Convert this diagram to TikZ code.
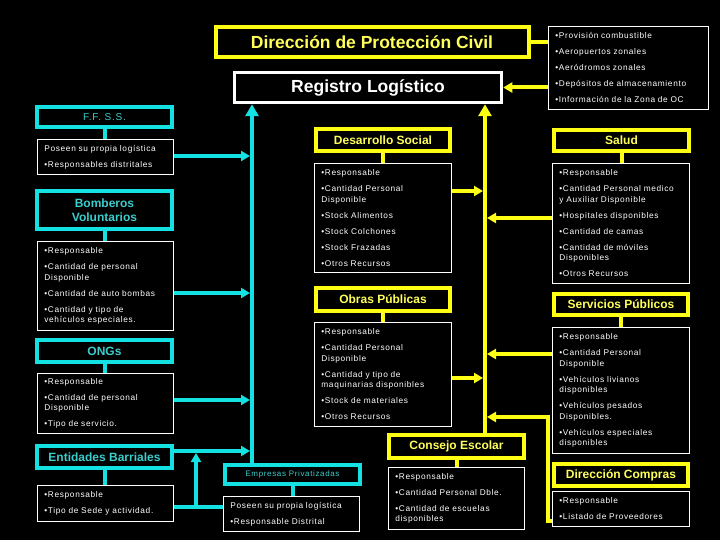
\documentclass[tikz,border=0pt]{standalone}
\usepackage{fontspec}
\setmainfont{Liberation Sans}
\newfontfamily\listfont[LetterSpace=8]{Liberation Sans}
\usetikzlibrary{calc,positioning,arrows.meta}
\definecolor{aqualine}{RGB}{20,225,225}
\definecolor{aquatext}{RGB}{60,205,205}
\definecolor{lemonline}{RGB}{255,255,20}
\definecolor{lemontext}{RGB}{255,255,90}

\begin{document}
\begin{tikzpicture}[x=1pt,y=-1pt,
    cabecera/.style={fill=black, line width=4pt, inner sep=0pt, align=center,
        minimum width=135pt, minimum height=22pt},
    cabC/.style={cabecera, draw=aqualine, text=aquatext, font=\bfseries\fontsize{12}{13.5}\selectfont},
    cabY/.style={cabecera, draw=lemonline, text=lemontext, font=\bfseries\fontsize{12}{13.5}\selectfont},
    lista/.style={draw=white, line width=0.8pt, fill=black, text=white,
        font=\listfont\fontsize{8.3}{10.5}\selectfont, align=left, anchor=north west,
        inner xsep=7pt, inner ysep=0pt},
    cline/.style={draw=aqualine, line width=4pt},
    yline/.style={draw=lemonline, line width=4pt},
    punta/.style={-{Triangle[length=9pt,width=10pt]}},
    puntabus/.style={-{Triangle[length=12pt,width=13pt]}},
]
    % background
    \fill[black] (0,0) rectangle (720,540);
    \useasboundingbox (0,0) rectangle (720,540);

    % top boxes
    \node[cabY, minimum width=313pt, minimum height=30pt, font=\bfseries\fontsize{17.5}{19}\selectfont] (dir) at (372,42) {Dirección de Protección Civil};
    \node[cabecera, draw=white, line width=3.5pt, text=white, minimum width=267pt, minimum height=30pt, font=\bfseries\fontsize{17.5}{19}\selectfont] (reg) at (368,87.5) {Registro Logístico};
    \node[lista, text width=146pt, minimum height=83pt] (topl) at (548,26) {%
        •Provisión combustible\\[5.5pt]
        •Aeropuertos zonales\\[5.5pt]
        •Aeródromos zonales\\[5.5pt]
        •Depósitos de almacenamiento\\[5.5pt]
        •Información de la Zona de OC};

    % left column
    \node[cabC, minimum height=20pt, font=\listfont\fontsize{10}{12}\selectfont] (ffss) at (104.5,117) {F.F. S.S.};
    \node[lista, text width=122pt, minimum height=35pt] (ffss-l) at (37,139) {%
        Poseen su propia logística\\[5.5pt]
        •Responsables distritales};

    \node[cabC, minimum height=38pt] (bomb) at (104.5,210) {Bomberos\\Voluntarios};
    \node[lista, text width=122pt, minimum height=89pt] (bomb-l) at (37,241) {%
        •Responsable\\[5.5pt]
        •Cantidad de personal\\Disponible\\[5.5pt]
        •Cantidad de auto bombas\\[5.5pt]
        •Cantidad y tipo de\\vehículos especiales.};

    \node[cabC] (ongs) at (104.5,351) {ONGs};
    \node[lista, text width=122pt, minimum height=60pt] (ongs-l) at (37,373) {%
        •Responsable\\[5.5pt]
        •Cantidad de personal\\Disponible\\[5.5pt]
        •Tipo de servicio.};

    \node[cabC] (entb) at (104.5,457) {Entidades Barriales};
    \node[lista, text width=122pt, minimum height=36pt] (entb-l) at (37,485) {%
        •Responsable\\[5.5pt]
        •Tipo de Sede y actividad.};

    \node[cabC, minimum height=19pt, font=\listfont\fontsize{8}{10}\selectfont] (empr) at (292.5,474.5) {Empresas Privatizadas};
    \node[lista, text width=122pt, minimum height=35pt] (empr-l) at (223,496) {%
        Poseen su propia logística\\[5.5pt]
        •Responsable Distrital};

    % middle column
    \node[cabY, minimum width=134pt] (dsoc) at (383,140) {Desarrollo Social};
    \node[lista, text width=123pt, minimum height=109pt] (dsoc-l) at (314,163) {%
        •Responsable\\[5.5pt]
        •Cantidad Personal\\Disponible\\[5.5pt]
        •Stock Alimentos\\[5.5pt]
        •Stock Colchones\\[5.5pt]
        •Stock Frazadas\\[5.5pt]
        •Otros Recursos};

    \node[cabY, minimum width=134pt, minimum height=23pt] (obras) at (383,299.5) {Obras Públicas};
    \node[lista, text width=123pt, minimum height=104pt] (obras-l) at (314,322) {%
        •Responsable\\[5.5pt]
        •Cantidad Personal\\Disponible\\[5.5pt]
        •Cantidad y tipo de\\maquinarias disponibles\\[5.5pt]
        •Stock de materiales\\[5.5pt]
        •Otros Recursos};

    \node[cabY, minimum height=23pt] (cesc) at (456.5,446.5) {Consejo Escolar};
    \node[lista, text width=122pt, minimum height=62pt] (cesc-l) at (388,467) {%
        •Responsable\\[5.5pt]
        •Cantidad Personal Dble.\\[5.5pt]
        •Cantidad de escuelas\\disponibles};

    % right column
    \node[cabY, minimum height=21pt] (salud) at (621.5,140.5) {Salud};
    \node[lista, text width=123pt, minimum height=120pt] (salud-l) at (552,163) {%
        •Responsable\\[5.5pt]
        •Cantidad Personal medico\\y Auxiliar Disponible\\[5.5pt]
        •Hospitales disponibles\\[5.5pt]
        •Cantidad de camas\\[5.5pt]
        •Cantidad de móviles\\Disponibles\\[5.5pt]
        •Otros Recursos};

    \node[cabY, minimum width=134pt, minimum height=21pt] (serv) at (621,304.5) {Servicios Públicos};
    \node[lista, text width=123pt, minimum height=126pt] (serv-l) at (552,327) {%
        •Responsable\\[5.5pt]
        •Cantidad Personal\\Disponible\\[5.5pt]
        •Vehículos livianos\\disponibles\\[5.5pt]
        •Vehículos pesados\\Disponibles.\\[5.5pt]
        •Vehículos especiales\\disponibles};

    \node[cabY, minimum width=134pt] (dcomp) at (621,475) {Dirección Compras};
    \node[lista, text width=123pt, minimum height=35pt] (dcomp-l) at (552,491) {%
        •Responsable\\[5.5pt]
        •Listado de Proveedores};

    % buses
    \coordinate (cbus) at (252,300);
    \coordinate (ybus) at (485,300);
    \draw[cline,puntabus] (empr.north -| cbus) -- (reg.south -| cbus);
    \draw[yline,puntabus] (cesc.north -| ybus) -- (reg.south -| ybus);

    % top links
    \draw[yline] (dir.east) -- (dir.east -| topl.west);
    \draw[yline,punta] (reg.east -| topl.west) -- (reg.east);

    % header to list
    \foreach \a in {ffss,bomb,ongs,entb,empr}
        \draw[cline] (\a.south) -- (\a.south |- \a-l.north);
    \foreach \a in {dsoc,obras,cesc,salud,serv}
        \draw[yline] (\a.south) -- (\a.south |- \a-l.north);

    % lists to the buses
    \foreach \a/\d in {ffss/17,bomb/52,ongs/27} {
        \coordinate (\a-o) at ($(\a-l.north east)+(0,\d)$);
        \draw[cline,punta,shorten >=2pt] (\a-o) -- (\a-o -| cbus);
    }
    \coordinate (entb-o) at ($(entb.east)+(0,-6)$);
    \draw[cline,punta,shorten >=2pt] (entb-o) -- (entb-o -| cbus);
    \coordinate (ejoin) at (196,507);
    \draw[cline] (ejoin -| entb-l.east) -- (ejoin -| empr-l.west);
    \draw[cline,punta,shorten >=2pt] (ejoin) -- (ejoin |- entb-o);

    \foreach \a/\d in {dsoc/28,obras/56} {
        \coordinate (\a-o) at ($(\a-l.north east)+(0,\d)$);
        \draw[yline,punta,shorten >=2pt] (\a-o) -- (\a-o -| ybus);
    }
    \foreach \a/\d in {salud/55,serv/27} {
        \coordinate (\a-o) at ($(\a-l.north west)+(0,\d)$);
        \draw[yline,punta,shorten >=2pt] (\a-o) -- (\a-o -| ybus);
    }
    \coordinate (dcomp-o) at ($(dcomp-l.south west)+(0,-6)$);
    \coordinate (dcbend) at (548,417);
    \draw[yline,punta,shorten >=2pt] (dcomp-o) -| (dcbend) -- (dcbend -| ybus);
\end{tikzpicture}
\end{document}
